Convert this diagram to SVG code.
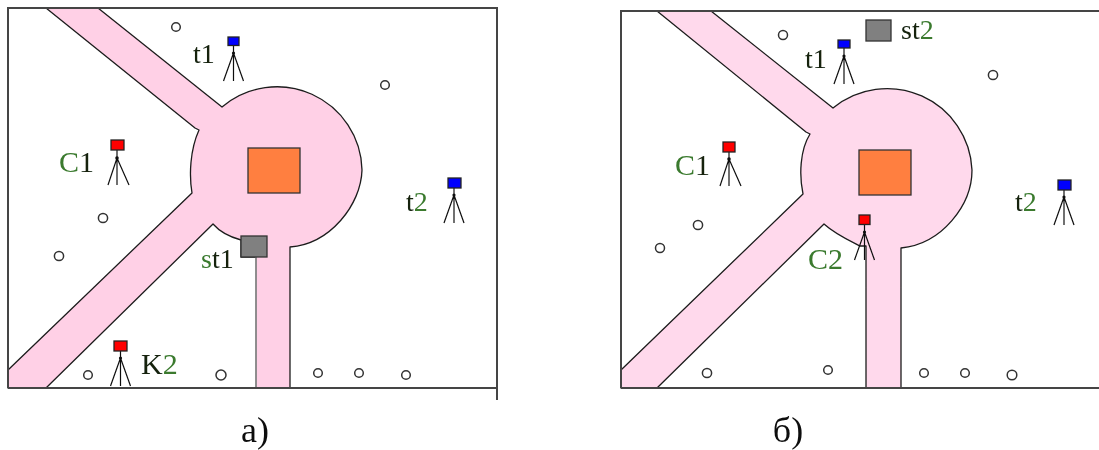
<svg xmlns="http://www.w3.org/2000/svg" width="1099" height="450" viewBox="0 0 1099 450">
<style>
.frame{fill:none;stroke:#444;stroke-width:2}
.road{stroke:#1c1c1c;stroke-width:1.3;stroke-linejoin:round}
.a{fill:#ffd0e6}
.b{fill:#ffd9ec}
.pale{fill:none;stroke:#999;stroke-width:1.6}
.bld{fill:#ff7f40;stroke:#333;stroke-width:1.3}
.st{fill:#808080;stroke:#333;stroke-width:1.3}
.pt{fill:#fff;stroke:#333;stroke-width:1.5}
.legs{fill:none;stroke:#111;stroke-width:1.2}
.red{fill:#f00;stroke:#222;stroke-width:1.3}
.blue{fill:#00f;stroke:#222;stroke-width:1.3}
text{font-family:"Liberation Serif","Times New Roman",serif;font-size:28px;fill:#14210f}
.g{fill:#3a7a2e}
.big{font-size:30px}
.cap{font-size:36px;fill:#111;text-anchor:middle}
</style>
<defs>
<filter id="soft" x="-2%" y="-2%" width="104%" height="104%"><feGaussianBlur stdDeviation="0.5"/></filter>
<g id="tripod"><path class="legs" d="M0 10V45M0 18L-9 45M0 18L12 45"/><circle cx="0" cy="18" r="1.8" fill="#111"/></g>
<g id="tripodS"><path class="legs" d="M0 9V45M0 17L-10 45M0 17L10 45"/><circle cx="0" cy="17" r="1.6" fill="#111"/></g>
</defs>

<g id="panel-a" filter="url(#soft)">
<path id="road-a" class="road a" d="M46 8H98L222 107A85 85 0 0 1 362 170C361 205 330 244 290 247V388H256V257H241V240C230 237 220 232 213 224L46 388H8V370L192 193C189 175 190 150 199 130L195 128Z"/>
<path class="pale" d="M256 257V388"/>
<path class="frame" d="M8 388V8H497V400M8 388H497"/>
<rect id="bld-a" class="bld" x="248" y="148" width="52" height="45"/>
<rect id="st1-box" class="st" x="241" y="236" width="26" height="21"/>
</g>
<g id="points-a" filter="url(#soft)">
<circle class="pt" cx="176" cy="27" r="4.3"/><circle class="pt" cx="385" cy="85" r="4.3"/><circle class="pt" cx="103" cy="218" r="4.6"/><circle class="pt" cx="59" cy="256" r="4.6"/><circle class="pt" cx="88" cy="375" r="4.3"/><circle class="pt" cx="221" cy="375" r="5"/><circle class="pt" cx="318" cy="373" r="4.3"/><circle class="pt" cx="359" cy="373" r="4.3"/><circle class="pt" cx="406" cy="375" r="4.3"/>
</g>
<g id="t1-a" filter="url(#soft)"><use href="#tripodS" x="233.500" y="36"/><rect class="blue" x="228" y="37" width="11" height="8.500"/></g>
<g id="C1-a" filter="url(#soft)"><use href="#tripod" x="117" y="140"/><rect class="red" x="111" y="140" width="13" height="10"/></g>
<g id="t2-a" filter="url(#soft)"><use href="#tripodS" x="454" y="178"/><rect class="blue" x="448" y="178" width="13" height="10"/></g>
<g id="K2-a" filter="url(#soft)"><use href="#tripodS" x="120.500" y="341"/><rect class="red" x="114" y="341" width="13" height="10"/></g>

<g id="panel-b" filter="url(#soft)">
<path id="road-b" class="road b" d="M657 11H711L833 108A85 85 0 0 1 972 170C972 205 942 244 901 248V388H866V246H860C848 240 835 234 824 224L657 388H621V370L803 194C799 175 800 150 810 134L806 132Z"/>
<path class="frame" d="M621 388V11H1099M621 388H1099"/>
<rect id="bld-b" class="bld" x="859" y="150" width="52" height="45"/>
<rect id="st2-box" class="st" x="866" y="20" width="25" height="21"/>
</g>
<g id="points-b" filter="url(#soft)">
<circle class="pt" cx="783" cy="35" r="4.5"/><circle class="pt" cx="993" cy="75" r="4.6"/><circle class="pt" cx="698" cy="225" r="4.6"/><circle class="pt" cx="660" cy="248" r="4.5"/><circle class="pt" cx="707" cy="373" r="4.6"/><circle class="pt" cx="828" cy="370" r="4.3"/><circle class="pt" cx="924" cy="373" r="4.3"/><circle class="pt" cx="965" cy="373" r="4.3"/><circle class="pt" cx="1012" cy="375" r="4.8"/>
</g>
<g id="t1-b" filter="url(#soft)"><use href="#tripodS" x="844" y="39"/><rect class="blue" x="838" y="40" width="12" height="8"/></g>
<g id="C1-b" filter="url(#soft)"><use href="#tripod" x="729" y="141"/><rect class="red" x="723" y="142" width="12" height="10"/></g>
<g id="t2-b" filter="url(#soft)"><use href="#tripodS" x="1064" y="180"/><rect class="blue" x="1058" y="180" width="13" height="10"/></g>
<g id="C2-b" filter="url(#soft)"><use href="#tripodS" x="864.500" y="215"/><rect class="red" x="859" y="215" width="11" height="9.500"/></g>

<g id="labels" filter="url(#soft)">
<text x="193" y="63">t1</text>
<text x="59" y="172" class="big"><tspan class="g">C</tspan>1</text>
<text x="406" y="211">t<tspan class="g">2</tspan></text>
<text x="201" y="268"><tspan class="g">s</tspan>t1</text>
<text x="141" y="374" class="big">K<tspan class="g">2</tspan></text>
<text x="901" y="39">st<tspan class="g">2</tspan></text>
<text x="805" y="68">t1</text>
<text x="675" y="175" class="big"><tspan class="g">C</tspan>1</text>
<text x="1015" y="211">t<tspan class="g">2</tspan></text>
<text x="808" y="269" class="g big">C2</text>
<text x="255" y="442" class="cap">а)</text>
<text x="788" y="442" class="cap">б)</text>
</g>
</svg>
